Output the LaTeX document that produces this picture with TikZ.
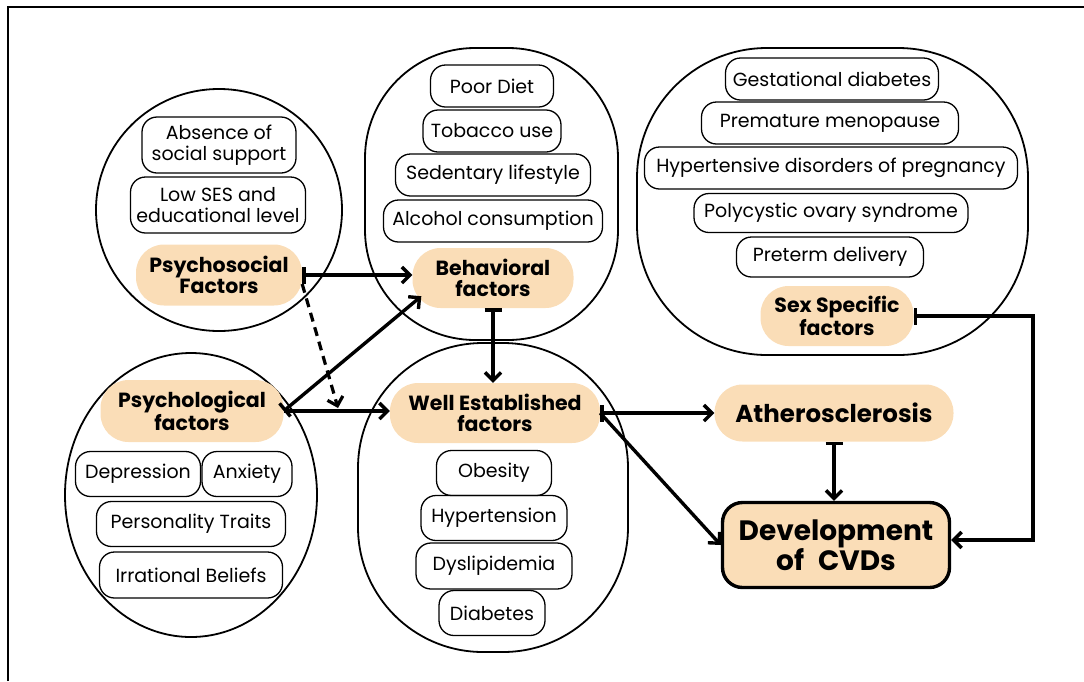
\documentclass[tikz,border=0pt]{standalone}
\usepackage{fontspec}
\setmainfont{Poppins}
\usetikzlibrary{arrows.meta}
\definecolor{peach}{RGB}{250,221,183}
\tikzset{
  blob/.style={draw, line width=1.8pt},
  item/.style={draw, line width=1.3pt, rounded corners=15pt, minimum height=42pt, minimum width=#1pt, inner sep=1pt, align=center, font=\fontsize{19}{20.5}\selectfont},
  factor/.style={fill=peach, rounded corners=28pt, minimum height=60pt, minimum width=#1pt, inner sep=1pt, align=center, font=\bfseries\fontsize{20.5}{21}\selectfont},
  link/.style={line width=3.4pt, -{Straight Barb[length=8pt,width=16pt]}},
  barlink/.style={line width=3.4pt, {Bar[width=17pt]}-{Straight Barb[length=8pt,width=16pt]}},
}
\begin{document}
\begin{tikzpicture}[x=1pt,y=-1pt]
\useasboundingbox (0,0) rectangle (1084,681);
\draw[line width=2.6pt] (8,681) -- (8,7) -- (1084,7);
\draw[blob] (219,210) ellipse [x radius=123pt, y radius=121pt];
\draw[blob, rounded corners=110pt] (365,48) rectangle (618,340);
\draw[blob, rounded corners=130pt] (637,48) rectangle (1028,355);
\draw[blob] (191,495) ellipse [x radius=126pt, y radius=142pt];
\draw[blob, rounded corners=125pt] (358,343) rectangle (628,652);
\draw (219,145) node[item=154, minimum height=56pt] (absn) {Absence of\\social support};
\draw (218,205) node[item=175, minimum height=56pt] (ses) {Low SES and\\educational level};
\draw (219,275) node[factor=166, minimum height=61pt] (psys) {Psychosocial\\Factors};
\draw (492,86) node[item=123] (diet) {Poor Diet};
\draw (492,131) node[item=138] (tob) {Tobacco use};
\draw (493,175) node[item=195] (sed) {Sedentary lifestyle};
\draw (493,221) node[item=219] (alc) {Alcohol consumption};
\draw (493,278) node[factor=161] (behav) {Behavioral\\factors};
\draw (832,79) node[item=213] (gest) {Gestational diabetes};
\draw (830,123) node[item=257] (meno) {Premature menopause};
\draw (831,168) node[item=373] (hdp) {Hypertensive disorders of pregnancy};
\draw (831,213) node[item=274, minimum height=39pt] (pcos) {Polycystic ovary syndrome};
\draw (830,257) node[item=187, minimum height=40pt] (pret) {Preterm delivery};
\draw (837,316) node[factor=153] (sexf) {Sex Specific\\factors};
\draw (192,411) node[factor=183, minimum height=62pt] (psyc) {Psychological\\factors};
\draw (138,474) node[item=125, minimum height=45pt] (dep) {Depression};
\draw (247,474) node[item=90, minimum height=45pt] (anx) {Anxiety};
\draw (191,524) node[item=189, minimum height=45pt] (pers) {Personality Traits};
\draw (191,575) node[item=183, minimum height=46pt] (irr) {Irrational Beliefs};
\draw (495,413) node[factor=210] (well) {Well Established\\factors};
\draw (494,473) node[item=115, minimum height=45pt] (obe) {Obesity};
\draw (494,518) node[item=146, minimum height=45pt] (hyp) {Hypertension};
\draw (494,566) node[item=156, minimum height=46pt] (dys) {Dyslipidemia};
\draw (492,613) node[item=106, minimum height=45pt] (diab) {Diabetes};
\draw (834,413) node[factor=239, minimum height=57pt, font=\bfseries\fontsize{24.5}{26}\selectfont] (ath) {Atherosclerosis};
\draw (836,545) node[factor=227, minimum height=85pt, draw, line width=3.4pt, rounded corners=20pt, font=\bfseries\fontsize{28}{30}\selectfont] (cvd) {Development\\of\enspace CVDs};
\coordinate (dashend) at (338,408);
\coordinate (turn) at (1033,316);
\draw[barlink] (psys.east) -- (psys.east -| behav.west);
\draw[line width=3.2pt, dash pattern=on 9pt off 6pt, -{Straight Barb[length=8pt,width=16pt]}] ([yshift=-9pt]psys.east) -- (dashend);
\draw[barlink] (psyc.east) -- ([xshift=9pt,yshift=12pt]behav.south west);
\draw[link] (psyc.east) -- (psyc.east -| well.west);
\draw[barlink] (behav.south) -- (behav.south |- well.north);
\draw[barlink] (well.east) -- (well.east -| ath.west);
\draw[link] (well.east) -- (cvd.west);
\draw[barlink] (ath.south) -- (ath.south |- cvd.north);
\draw[barlink] (sexf.east) -- (turn) |- ([yshift=5pt]cvd.east);
\end{tikzpicture}
\end{document}
